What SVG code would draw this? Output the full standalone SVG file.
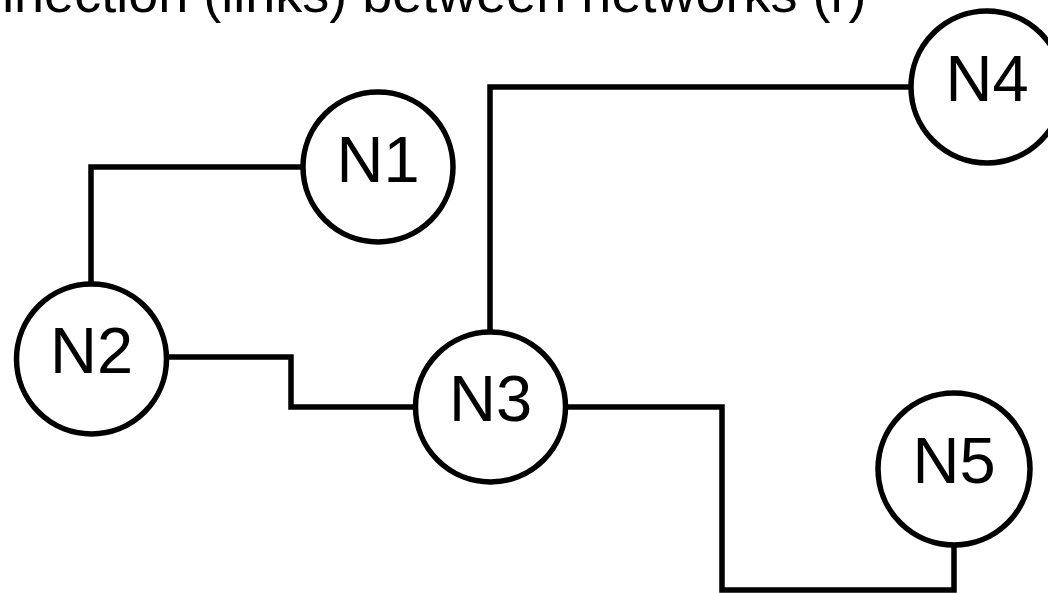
<svg xmlns="http://www.w3.org/2000/svg" width="1048" height="593" viewBox="0 0 1048 593">
<style>
.node circle{fill:#fff;stroke:#000;stroke-width:5.5}
.node text{font-family:"Liberation Sans",Arial,sans-serif;font-size:65px;text-anchor:middle;fill:#000}
.title{font-family:"Liberation Sans",Arial,sans-serif;font-size:54px;fill:#000}
#connectors path{fill:none;stroke:#000;stroke-width:5.5;stroke-linejoin:miter}
</style>
<rect width="1048" height="593" fill="#fff"/>
<text class="title" x="-85" y="12">Connection (links) between networks (r)</text>
<g id="connectors">
<path d="M303 167 H91 V284"/>
<path d="M166 357 H291 V407 H415"/>
<path d="M490 332 V87 H911"/>
<path d="M566 407 H722 V590 H954 V545"/>
</g>
<g id="N1" class="node"><circle cx="378" cy="167" r="75"/><text x="378" y="182">N1</text></g>
<g id="N2" class="node"><circle cx="91.5" cy="359" r="75"/><text x="91.5" y="373">N2</text></g>
<g id="N3" class="node"><circle cx="490.5" cy="407" r="75"/><text x="490.5" y="421">N3</text></g>
<g id="N4" class="node"><circle cx="987" cy="87" r="76"/><text x="987" y="101">N4</text></g>
<g id="N5" class="node"><circle cx="954" cy="469" r="76"/><text x="954" y="483">N5</text></g>
</svg>
